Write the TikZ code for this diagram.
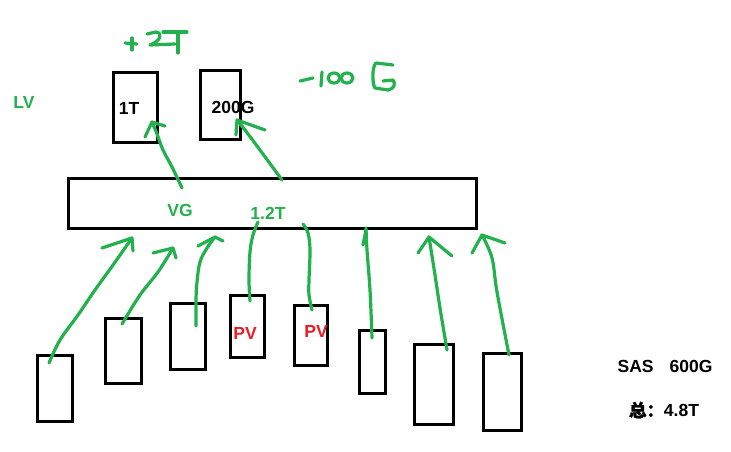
\documentclass[tikz,border=0pt]{standalone}
\usepackage{fontspec}
\setmainfont{Liberation Sans}
\newfontfamily\cjk{Noto Sans CJK SC}[FakeBold=1.2]
\definecolor{pgreen}{RGB}{34,177,76}
\definecolor{pred}{RGB}{237,28,36}
\begin{document}
\begin{tikzpicture}[x=1pt,y=-1pt,
  box/.style={draw=black, line width=3pt, rectangle, inner sep=0pt},
  pen/.style={draw=pgreen, line width=3.2pt, line cap=round, line join=round},
  lbl/.style={font=\fontsize{17.5}{20}\selectfont\bfseries, inner sep=0pt},
]
\useasboundingbox (0,0) rectangle (731,452);
\fill[white] (0,0) rectangle (731,452);

% labels drawn under the boxes
\node[lbl] (t1T) at (129,108) {1T};
\node[lbl] (t200) at (233,107) {200G};

% boxes
\node[box, minimum width=44pt, minimum height=70pt] (lv1) at (135.5,107.5) {};
\node[box, minimum width=40pt, minimum height=69pt] (lv2) at (220.5,105) {};
\node[box, minimum width=408pt, minimum height=50pt] (vg) at (272.5,203.5) {};
\node[box, minimum width=35pt, minimum height=66pt] (b1) at (55,388.5) {};
\node[box, minimum width=36pt, minimum height=65pt] (b2) at (123.5,351) {};
\node[box, minimum width=35pt, minimum height=66pt] (b3) at (188,336.5) {};
\node[box, minimum width=34pt, minimum height=62pt] (b4) at (247.5,326.5) {};
\node[box, minimum width=33pt, minimum height=60pt] (b5) at (311,335.5) {};
\node[box, minimum width=26pt, minimum height=63pt] (b6) at (372.5,362) {};
\node[box, minimum width=39pt, minimum height=80pt] (b7) at (434,384.5) {};
\node[box, minimum width=38pt, minimum height=77pt] (b8) at (502.5,392) {};

% texts
\node[lbl, text=pgreen] (lv) at (24,102) {LV};
\node[lbl, text=pgreen] (vgt) at (180,210) {VG};
\node[lbl, text=pgreen] (size) at (268,213) {1.2T};
\node[lbl, text=pred] (pv1) at (245,333) {PV};
\node[lbl, text=pred] (pv2) at (316,331) {PV};
\node[lbl] (sas) at (665,366) {SAS\hspace{16pt}600G};
\node[lbl] (tot) at (664,410) {{\cjk 总：}4.8T};

% green strokes: top arrows
\draw[pen] plot[smooth, tension=0.6] coordinates {(182,188) (172,167) (163,150) (157,134) (152,122)};
\draw[pen] (145,137) -- (152,122) -- (165,126);
\draw[pen] plot[smooth, tension=0.6] coordinates {(282,180) (260,150) (245,130) (237,120)};
\draw[pen] (236,135) -- (237,120) -- (265,130);

% bottom arrows
\draw[pen] plot[smooth, tension=0.6] coordinates {(49,363) (60,340) (78,315) (95,290) (113,265) (132,238)};
\draw[pen] (102,248) -- (132,238) -- (133,251);
\draw[pen] plot[smooth, tension=0.6] coordinates {(122,324) (140,295) (158,272) (173,248)};
\draw[pen] (153,253) -- (173,248) -- (176,258);
\draw[pen] plot[smooth, tension=0.6] coordinates {(196,326) (196,300) (197,282) (200,262) (207,248) (215,237)};
\draw[pen] (198,246) -- (215,237) -- (223,241);
\draw[pen] plot[smooth, tension=0.6] coordinates {(250,301) (249,280) (250,252) (253,235) (258,222)};
\draw[pen] plot[smooth, tension=0.6] coordinates {(312,310) (309,295) (309,280) (310,250) (308,233) (303,224)};
\draw[pen] plot[smooth, tension=0.6] coordinates {(372,338) (370,290) (367,250) (366,228)};
\draw[pen] (363,245) -- (366,230);
\draw[pen] plot[smooth, tension=0.6] coordinates {(447,350) (440,308) (435,275) (429,237)};
\draw[pen] (418,253) -- (429,237) -- (452,256);
\draw[pen] plot[smooth, tension=0.6] coordinates {(509,355) (497,292) (492,258) (482,235)};
\draw[pen] (472,253) -- (482,235) -- (505,243);

% handwriting +2T
\draw[pen] (125,43) -- (137,44);
\draw[pen] (132,38) -- (132,50);
\draw[pen] (147,34) -- (156,32) .. controls (163,33) and (161,41) .. (150,45) -- (175,44);
\draw[pen] (163,32) -- (187,32);
\draw[pen] (178,32) -- (178,53);

% handwriting -100G
\draw[pen] (300,81) -- (313,78);
\draw[pen] (322,72) -- (321,86);
\draw[pen] (334,78) ellipse [x radius=6, y radius=5];
\draw[pen] (347,78) ellipse [x radius=6, y radius=5];
\draw[pen] (393,65) -- (376,63) .. controls (372,66) and (372,84) .. (375,88)
  -- (388,90) .. controls (394,89) and (396,84) .. (393,80) -- (383,81);
\end{tikzpicture}
\end{document}
